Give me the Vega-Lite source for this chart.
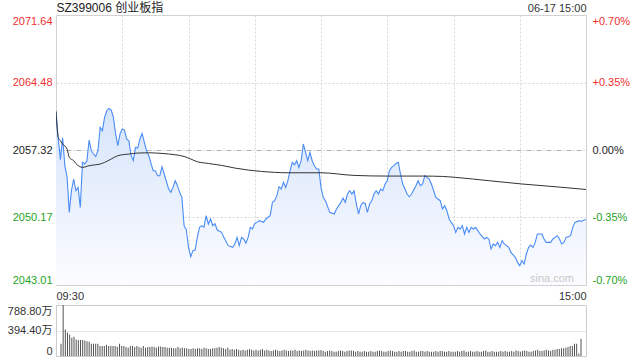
{
  "$schema": "https://vega.github.io/schema/vega-lite/v6.json",
  "padding": {"left": 5, "top": 0, "right": 5, "bottom": 0},
  "bounds": "flush",
  "spacing": 20,
  "config": {
    "font": "Liberation Sans, Noto Sans CJK SC",
    "view": {"stroke": "#cccccc"},
    "axis": {"labelFont": "Liberation Sans, Noto Sans CJK SC", "labelFontSize": 11, "titleFont": "Liberation Sans, Noto Sans CJK SC"}
  },
  "datasets": {
    "price": [
      {"t":0,"price":2061.41},{"t":1,"price":2058.62},{"t":2,"price":2056.29},{"t":3,"price":2058.62},{"t":4,"price":2055.66},{"t":5,"price":2054.49},{"t":6,"price":2050.71},{"t":7,"price":2053.01},{"t":8,"price":2054.25},{"t":9,"price":2053.01},
      {"t":10,"price":2053.36},{"t":11,"price":2051.24},{"t":12,"price":2056.01},{"t":13,"price":2055.84},{"t":14,"price":2056.19},{"t":15,"price":2058.38},{"t":16,"price":2057.25},{"t":17,"price":2056.90},{"t":18,"price":2056.64},{"t":19,"price":2057.25},
      {"t":20,"price":2059.72},{"t":21,"price":2059.37},{"t":22,"price":2060.78},{"t":23,"price":2061.49},{"t":24,"price":2061.73},{"t":25,"price":2061.56},{"t":26,"price":2060.78},{"t":27,"price":2059.02},{"t":28,"price":2057.78},{"t":29,"price":2059.02},
      {"t":30,"price":2059.55},{"t":31,"price":2059.44},{"t":32,"price":2058.49},{"t":33,"price":2058.31},{"t":34,"price":2056.72},{"t":35,"price":2056.19},{"t":36,"price":2057.60},{"t":37,"price":2057.56},{"t":38,"price":2058.49},{"t":39,"price":2059.08},
      {"t":40,"price":2058.13},{"t":41,"price":2057.25},{"t":42,"price":2056.72},{"t":44,"price":2055.13},{"t":45,"price":2055.13},{"t":46,"price":2054.60},{"t":47,"price":2054.60},{"t":48,"price":2055.55},{"t":49,"price":2054.78},
      {"t":51,"price":2053.19},{"t":52,"price":2052.83},{"t":53,"price":2053.36},{"t":54,"price":2054.07},{"t":55,"price":2053.54},{"t":56,"price":2052.83},{"t":57,"price":2052.30},{"t":58,"price":2049.30},{"t":59,"price":2048.87},
      {"t":60,"price":2047.00},{"t":61,"price":2046.01},{"t":62,"price":2046.65},{"t":63,"price":2046.72},{"t":64,"price":2048.06},{"t":65,"price":2049.12},{"t":66,"price":2049.30},{"t":67,"price":2049.12},{"t":68,"price":2050.36},{"t":69,"price":2049.48},
      {"t":70,"price":2050.01},{"t":71,"price":2049.30},{"t":72,"price":2049.51},{"t":73,"price":2048.84},{"t":75,"price":2048.59},{"t":76,"price":2048.06},{"t":78,"price":2047.18},
      {"t":80,"price":2047.00},{"t":81,"price":2047.36},{"t":82,"price":2048.06},{"t":83,"price":2047.18},{"t":84,"price":2048.06},{"t":85,"price":2047.89},{"t":86,"price":2047.44},{"t":87,"price":2048.06},{"t":88,"price":2049.12},{"t":89,"price":2048.95},
      {"t":90,"price":2049.54},{"t":91,"price":2049.65},{"t":92,"price":2049.83},{"t":94,"price":2049.65},{"t":95,"price":2050.01},{"t":97,"price":2050.36},{"t":98,"price":2051.77},{"t":99,"price":2051.95},
      {"t":100,"price":2052.48},{"t":101,"price":2053.43},{"t":102,"price":2053.19},{"t":103,"price":2053.89},{"t":104,"price":2053.36},{"t":105,"price":2054.07},{"t":106,"price":2055.13},{"t":107,"price":2056.01},{"t":108,"price":2055.76},{"t":109,"price":2056.19},
      {"t":110,"price":2055.48},{"t":111,"price":2056.19},{"t":112,"price":2057.96},{"t":113,"price":2057.07},{"t":114,"price":2056.19},{"t":115,"price":2057.07},{"t":116,"price":2056.19},{"t":117,"price":2055.66},{"t":118,"price":2055.31},{"t":119,"price":2055.31},
      {"t":120,"price":2053.36},{"t":121,"price":2052.30},{"t":122,"price":2051.95},{"t":124,"price":2050.71},{"t":126,"price":2050.54},{"t":127,"price":2051.07},{"t":129,"price":2051.77},
      {"t":130,"price":2052.23},{"t":131,"price":2051.77},{"t":132,"price":2052.66},{"t":133,"price":2053.01},{"t":134,"price":2052.66},{"t":135,"price":2053.01},{"t":136,"price":2051.60},{"t":137,"price":2050.54},{"t":138,"price":2051.42},{"t":139,"price":2051.77},
      {"t":140,"price":2051.66},{"t":141,"price":2050.71},{"t":142,"price":2051.60},{"t":143,"price":2051.95},{"t":144,"price":2052.66},{"t":145,"price":2053.01},{"t":146,"price":2052.66},{"t":147,"price":2053.19},{"t":148,"price":2053.01},{"t":149,"price":2053.72},
      {"t":150,"price":2054.07},{"t":151,"price":2055.13},{"t":152,"price":2055.48},{"t":153,"price":2055.66},{"t":154,"price":2055.90},{"t":155,"price":2056.01},{"t":156,"price":2054.78},{"t":157,"price":2053.72},{"t":159,"price":2052.66},
      {"t":160,"price":2052.37},{"t":161,"price":2052.66},{"t":163,"price":2053.54},{"t":164,"price":2054.07},{"t":165,"price":2053.54},{"t":166,"price":2053.72},{"t":167,"price":2054.60},{"t":168,"price":2054.42},{"t":169,"price":2054.25},
      {"t":170,"price":2053.72},{"t":171,"price":2053.01},{"t":172,"price":2052.30},{"t":174,"price":2051.95},{"t":175,"price":2051.07},{"t":176,"price":2051.42},{"t":177,"price":2050.89},{"t":178,"price":2050.01},{"t":179,"price":2049.65},
      {"t":180,"price":2049.30},{"t":181,"price":2048.59},{"t":182,"price":2049.12},{"t":183,"price":2048.95},{"t":184,"price":2049.30},{"t":185,"price":2048.42},{"t":186,"price":2049.12},{"t":187,"price":2048.59},{"t":188,"price":2049.12},{"t":189,"price":2048.95},
      {"t":190,"price":2049.12},{"t":191,"price":2048.77},{"t":192,"price":2048.42},{"t":194,"price":2047.89},{"t":195,"price":2048.06},{"t":196,"price":2047.89},{"t":197,"price":2046.83},{"t":198,"price":2047.36},{"t":199,"price":2047.18},
      {"t":200,"price":2047.53},{"t":201,"price":2047.00},{"t":202,"price":2047.71},{"t":203,"price":2047.36},{"t":205,"price":2047.00},{"t":206,"price":2046.47},{"t":208,"price":2045.94},{"t":209,"price":2045.41},
      {"t":210,"price":2045.06},{"t":211,"price":2045.59},{"t":212,"price":2045.24},{"t":213,"price":2046.30},{"t":214,"price":2047.00},{"t":215,"price":2047.25},{"t":216,"price":2047.00},{"t":217,"price":2047.53},{"t":218,"price":2048.42},
      {"t":220,"price":2048.42},{"t":221,"price":2047.89},{"t":222,"price":2047.53},{"t":224,"price":2047.53},{"t":225,"price":2047.89},{"t":227,"price":2048.24},{"t":228,"price":2047.89},{"t":229,"price":2047.36},
      {"t":230,"price":2047.53},{"t":231,"price":2048.06},{"t":233,"price":2048.24},{"t":234,"price":2049.12},{"t":235,"price":2049.65},{"t":237,"price":2049.83},{"t":238,"price":2049.75},{"t":239,"price":2049.90},{"t":240,"price":2049.93}
    ],
    "avg": [
      {"t":0,"avg":2061.41},{"t":1,"avg":2058.66},{"t":2,"avg":2058.31},{"t":3,"avg":2057.96},{"t":5,"avg":2057.43},{"t":6,"avg":2056.54},{"t":8,"avg":2056.19},{"t":9,"avg":2055.90},{"t":12,"avg":2055.48},{"t":15,"avg":2055.66},
      {"t":18,"avg":2055.76},{"t":20,"avg":2055.84},{"t":22,"avg":2056.01},{"t":25,"avg":2056.37},{"t":28,"avg":2056.72},{"t":33,"avg":2056.90},{"t":37,"avg":2057.00},{"t":42,"avg":2057.03},{"t":48,"avg":2056.96},{"t":54,"avg":2056.82},
      {"t":58,"avg":2056.64},{"t":61,"avg":2056.37},{"t":64,"avg":2056.08},{"t":69,"avg":2055.90},{"t":75,"avg":2055.69},{"t":81,"avg":2055.41},{"t":87,"avg":2055.20},{"t":93,"avg":2055.05},{"t":99,"avg":2054.95},{"t":105,"avg":2054.91},
      {"t":120,"avg":2054.91},{"t":135,"avg":2054.63},{"t":150,"avg":2054.56},{"t":166,"avg":2054.56},{"t":175,"avg":2054.52},{"t":181,"avg":2054.42},{"t":196,"avg":2054.07},{"t":211,"avg":2053.72},{"t":226,"avg":2053.43},{"t":240,"avg":2053.14}
    ],
    "vol": [
      {"t":0,"vol":189},{"t":1,"vol":788.8},{"t":2,"vol":410},{"t":3,"vol":358},{"t":4,"vol":332},{"t":5,"vol":281},{"t":6,"vol":297},{"t":7,"vol":256},{"t":8,"vol":246},{"t":9,"vol":246},
      {"t":10,"vol":246},{"t":11,"vol":240},{"t":12,"vol":230},{"t":13,"vol":220},{"t":14,"vol":189},{"t":15,"vol":189},{"t":16,"vol":189},{"t":17,"vol":189},{"t":18,"vol":153},{"t":19,"vol":153},
      {"t":20,"vol":153},{"t":21,"vol":169},{"t":22,"vol":153},{"t":23,"vol":153},{"t":24,"vol":153},{"t":25,"vol":153},{"t":26,"vol":138},{"t":27,"vol":189},{"t":28,"vol":153},{"t":29,"vol":153},
      {"t":30,"vol":138},{"t":31,"vol":128},{"t":32,"vol":153},{"t":33,"vol":153},{"t":34,"vol":138},{"t":35,"vol":153},{"t":36,"vol":138},{"t":37,"vol":128},{"t":38,"vol":153},{"t":39,"vol":128},
      {"t":40,"vol":138},{"t":41,"vol":138},{"t":42,"vol":148},{"t":43,"vol":138},{"t":44,"vol":128},{"t":45,"vol":148},{"t":46,"vol":148},{"t":47,"vol":138},{"t":48,"vol":138},{"t":49,"vol":128},
      {"t":50,"vol":128},{"t":51,"vol":128},{"t":52,"vol":118},{"t":53,"vol":118},{"t":54,"vol":138},{"t":55,"vol":118},{"t":56,"vol":128},{"t":57,"vol":118},{"t":58,"vol":118},{"t":59,"vol":107},
      {"t":60,"vol":107},{"t":61,"vol":118},{"t":62,"vol":107},{"t":63,"vol":118},{"t":64,"vol":118},{"t":65,"vol":107},{"t":66,"vol":128},{"t":67,"vol":118},{"t":68,"vol":107},{"t":69,"vol":107},
      {"t":70,"vol":118},{"t":71,"vol":118},{"t":72,"vol":128},{"t":73,"vol":138},{"t":74,"vol":128},{"t":75,"vol":118},{"t":76,"vol":107},{"t":77,"vol":128},{"t":78,"vol":97},{"t":79,"vol":107},
      {"t":80,"vol":97},{"t":81,"vol":107},{"t":82,"vol":97},{"t":83,"vol":87},{"t":84,"vol":97},{"t":85,"vol":87},{"t":86,"vol":97},{"t":87,"vol":107},{"t":88,"vol":97},{"t":89,"vol":87},
      {"t":90,"vol":97},{"t":91,"vol":87},{"t":92,"vol":97},{"t":93,"vol":107},{"t":94,"vol":87},{"t":95,"vol":97},{"t":96,"vol":87},{"t":97,"vol":77},{"t":98,"vol":87},{"t":99,"vol":97},
      {"t":100,"vol":87},{"t":101,"vol":77},{"t":102,"vol":87},{"t":103,"vol":97},{"t":104,"vol":87},{"t":105,"vol":77},{"t":106,"vol":87},{"t":107,"vol":87},{"t":108,"vol":97},{"t":109,"vol":77},
      {"t":110,"vol":87},{"t":111,"vol":77},{"t":112,"vol":87},{"t":113,"vol":97},{"t":114,"vol":87},{"t":115,"vol":77},{"t":116,"vol":87},{"t":117,"vol":77},{"t":118,"vol":87},{"t":119,"vol":87},
      {"t":120,"vol":92},{"t":121,"vol":77},{"t":122,"vol":66},{"t":123,"vol":77},{"t":124,"vol":87},{"t":125,"vol":77},{"t":126,"vol":66},{"t":127,"vol":66},{"t":128,"vol":77},{"t":129,"vol":87},
      {"t":130,"vol":77},{"t":131,"vol":66},{"t":132,"vol":77},{"t":133,"vol":87},{"t":134,"vol":87},{"t":135,"vol":77},{"t":136,"vol":66},{"t":137,"vol":77},{"t":138,"vol":66},{"t":139,"vol":66},
      {"t":140,"vol":77},{"t":141,"vol":66},{"t":142,"vol":66},{"t":143,"vol":77},{"t":144,"vol":66},{"t":145,"vol":66},{"t":146,"vol":77},{"t":147,"vol":87},{"t":148,"vol":77},{"t":149,"vol":66},
      {"t":150,"vol":66},{"t":151,"vol":77},{"t":152,"vol":87},{"t":153,"vol":77},{"t":154,"vol":66},{"t":155,"vol":66},{"t":156,"vol":77},{"t":157,"vol":66},{"t":158,"vol":77},{"t":159,"vol":77},
      {"t":160,"vol":66},{"t":161,"vol":66},{"t":162,"vol":77},{"t":163,"vol":87},{"t":164,"vol":66},{"t":165,"vol":66},{"t":166,"vol":77},{"t":167,"vol":77},{"t":168,"vol":66},{"t":169,"vol":77},
      {"t":170,"vol":66},{"t":171,"vol":66},{"t":172,"vol":66},{"t":173,"vol":77},{"t":174,"vol":66},{"t":175,"vol":77},{"t":176,"vol":77},{"t":177,"vol":66},{"t":178,"vol":66},{"t":179,"vol":77},
      {"t":180,"vol":66},{"t":181,"vol":66},{"t":182,"vol":66},{"t":183,"vol":77},{"t":184,"vol":66},{"t":185,"vol":77},{"t":186,"vol":87},{"t":187,"vol":66},{"t":188,"vol":66},{"t":189,"vol":77},
      {"t":190,"vol":66},{"t":191,"vol":66},{"t":192,"vol":77},{"t":193,"vol":66},{"t":194,"vol":66},{"t":195,"vol":77},{"t":196,"vol":87},{"t":197,"vol":66},{"t":198,"vol":66},{"t":199,"vol":77},
      {"t":200,"vol":66},{"t":201,"vol":66},{"t":202,"vol":66},{"t":203,"vol":77},{"t":204,"vol":66},{"t":205,"vol":77},{"t":206,"vol":66},{"t":207,"vol":66},{"t":208,"vol":77},{"t":209,"vol":66},
      {"t":210,"vol":87},{"t":211,"vol":77},{"t":212,"vol":66},{"t":213,"vol":77},{"t":214,"vol":87},{"t":215,"vol":77},{"t":216,"vol":66},{"t":217,"vol":66},{"t":218,"vol":77},{"t":219,"vol":87},
      {"t":220,"vol":97},{"t":221,"vol":77},{"t":222,"vol":77},{"t":223,"vol":87},{"t":224,"vol":97},{"t":225,"vol":87},{"t":226,"vol":77},{"t":227,"vol":97},{"t":228,"vol":97},{"t":229,"vol":107},
      {"t":230,"vol":107},{"t":231,"vol":118},{"t":232,"vol":118},{"t":233,"vol":128},{"t":234,"vol":138},{"t":235,"vol":153},{"t":236,"vol":153},{"t":237,"vol":189},{"t":238,"vol":189},{"t":239,"vol":40},
      {"t":240,"vol":266}
    ],
    "mark": [{"label": "sina.com"}]
  },
  "vconcat": [
    {
      "width": 530,
      "height": 270,
      "layer": [
        {
          "data": {"name": "price"},
          "mark": {"type": "area", "clip": true, "opacity": 1, "fillOpacity": 1, "fill": {"gradient": "linear", "x1": 0, "y1": 0, "x2": 0, "y2": 1, "stops": [{"offset": 0, "color": "#d6e4fb"}, {"offset": 0.5, "color": "#e9f0fd"}, {"offset": 1, "color": "#fbfcff"}]}},
          "encoding": {
            "x": {"field": "t", "type": "quantitative", "scale": {"domain": [0, 240], "nice": false, "zero": false},
              "axis": {"orient": "bottom", "values": [0, 30, 60, 90, 120, 150, 180, 210, 240], "labelExpr": "datum.value == 0 ? '09:30' : (datum.value == 240 ? '15:00' : '')", "labelFlush": true, "ticks": false, "domain": false, "grid": true, "gridColor": "#d8d8d8", "gridDash": [2, 2], "labelPadding": 5, "labelColor": "#333333", "title": null}},
            "y": {"field": "price", "type": "quantitative", "scale": {"domain": [2043.01, 2071.64], "nice": false, "zero": false},
              "axis": {"orient": "left", "values": [2043.01, 2050.17, 2057.32, 2064.48, 2071.64], "format": ".2f", "labelFlush": true, "ticks": false, "domain": false, "grid": true,
                "gridColor": {"expr": "abs(datum.value - 2057.32) < 0.01 ? '#b0b0b0' : '#d8d8d8'"},
                "gridDash": {"condition": {"test": "abs(datum.value - 2057.32) < 0.01", "value": [5, 2, 1, 2]}, "value": [2, 2]},
                "labelColor": {"expr": "datum.value > 2057.4 ? '#f03030' : (datum.value < 2057.2 ? '#1fa31f' : '#222222')"},
                "labelPadding": 4, "minExtent": 50, "maxExtent": 50, "title": null}},
            "y2": {"datum": 2043.01}
          }
        },
        {
          "data": {"name": "price"},
          "mark": {"type": "line", "clip": true, "color": "#4a8cf6", "strokeWidth": 1.1},
          "encoding": {
            "x": {"field": "t", "type": "quantitative", "axis": null},
            "y": {"field": "price", "type": "quantitative", "axis": null}
          }
        },
        {
          "data": {"name": "avg"},
          "mark": {"type": "line", "clip": true, "color": "#333333", "strokeWidth": 1, "interpolate": "monotone"},
          "encoding": {
            "x": {"field": "t", "type": "quantitative",
              "axis": {"orient": "top", "values": [240], "labelExpr": "'06-17 15:00'", "labelFlush": true, "ticks": false, "domain": false, "grid": false, "labelPadding": 2, "labelColor": "#333333",
                "title": "SZ399006 创业板指", "titleAnchor": "start", "titleAlign": "left", "titleX": 0, "titleY": -4, "titleBaseline": "alphabetic", "titleFontSize": 12, "titleFontWeight": "normal", "titleColor": "#222222"}},
            "y": {"field": "avg", "type": "quantitative",
              "axis": {"orient": "right", "values": [2043.01, 2050.17, 2057.32, 2064.48, 2071.64], "labelFlush": true, "ticks": false, "domain": false, "grid": false,
                "labelExpr": "abs(datum.value - 2057.32) < 0.01 ? '0.00%' : ((datum.value > 2057.32 ? '+' : '-') + format(abs(datum.value - 2057.32) / 2057.32 * 100, '.2f') + '%')",
                "labelColor": {"expr": "datum.value > 2057.4 ? '#f03030' : (datum.value < 2057.2 ? '#1fa31f' : '#222222')"},
                "labelPadding": 6, "title": null}}
          }
        },
        {
          "data": {"name": "mark"},
          "mark": {"type": "text", "align": "right", "baseline": "bottom", "dx": -12, "dy": -1, "color": "#c8c8c8", "fontSize": 11},
          "encoding": {
            "text": {"field": "label"},
            "x": {"datum": 240, "type": "quantitative", "axis": null},
            "y": {"datum": 2043.01, "type": "quantitative", "axis": null}
          }
        }
      ],
      "resolve": {"axis": {"x": "independent", "y": "independent"}}
    },
    {
      "width": 530,
      "height": 51,
      "data": {"name": "vol"},
      "mark": {"type": "bar", "size": 1, "color": "#555555"},
      "encoding": {
        "x": {"field": "t", "type": "quantitative", "scale": {"domain": [0, 240], "nice": false, "zero": false}, "axis": null},
        "y": {"field": "vol", "type": "quantitative", "scale": {"domain": [0, 788.8], "nice": false},
          "axis": {"values": [0, 394.4, 788.8], "labelExpr": "datum.value == 0 ? '0' : format(datum.value, '.2f') + '万'", "labelFlush": true, "ticks": false, "domain": false, "grid": true, "gridColor": "#cccccc", "gridDash": [1, 1], "labelColor": "#333333", "labelPadding": 4, "minExtent": 50, "maxExtent": 50, "title": null}}
      }
    }
  ]
}
